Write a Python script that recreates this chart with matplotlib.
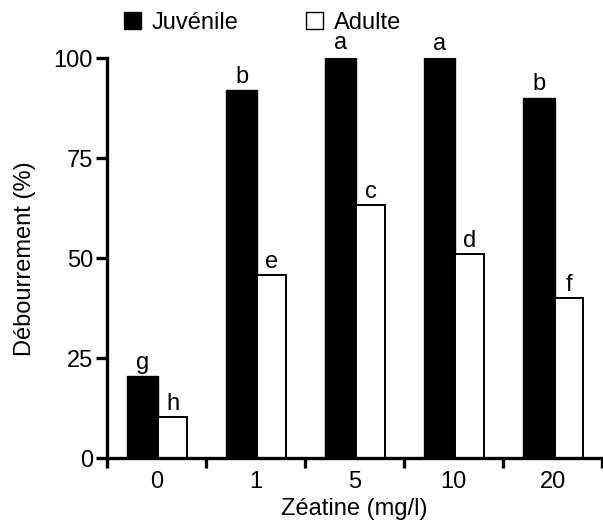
import numpy as np
import matplotlib.pyplot as plt
from matplotlib.patches import Patch

plt.rcParams['font.family'] = ['Liberation Sans', 'DejaVu Sans']

doses = ["0", "1", "5", "10", "20"]
juvenile = [20.6, 92.0, 100.5, 100.2, 90.2]
adulte = [10.2, 45.8, 63.3, 51.0, 40.1]
letters_juv = ["g", "b", "a", "a", "b"]
letters_adu = ["h", "e", "c", "d", "f"]

FS = 17


def main():
    fig = plt.figure(figsize=(6.03, 5.24), dpi=100)
    ax = fig.add_axes([0.1774, 0.1254, 0.821, 0.7633])

    x = np.arange(len(doses))
    bj = ax.bar(x - 0.14, juvenile, width=0.32, color='black', edgecolor='black',
                linewidth=1.0, zorder=2)
    ba = ax.bar(x + 0.165, adulte, width=0.29, color='white', edgecolor='black',
                linewidth=1.4, zorder=2)

    for rect, lab in zip(list(bj) + list(ba), letters_juv + letters_adu):
        ax.text(rect.get_x() + rect.get_width() / 2, rect.get_height() + 1.8, lab,
                ha='center', va='baseline', fontsize=FS, clip_on=False)

    ax.set_xlim(-0.5, 4.5)
    ax.set_ylim(0, 100)
    ax.spines['top'].set_visible(False)
    ax.spines['right'].set_visible(False)
    ax.spines['left'].set_linewidth(2.4)
    ax.spines['bottom'].set_linewidth(2.4)

    ax.set_yticks([0, 25, 50, 75, 100])
    ax.tick_params(axis='y', length=8, width=2.4, labelsize=FS, pad=2)
    ax.set_xticks(x)
    ax.set_xticklabels(doses)
    ax.set_xticks(np.arange(-0.5, 5.0, 1.0), minor=True)
    ax.tick_params(axis='x', which='major', length=0, labelsize=FS, pad=9)
    ax.tick_params(axis='x', which='minor', length=7, width=2.4)

    ax.set_xlabel("Zéatine (mg/l)", fontsize=FS, labelpad=4)
    ax.set_ylabel("Débourrement (%)", fontsize=FS, labelpad=13)

    handles = [Patch(facecolor='black', edgecolor='black', label='Juvénile'),
               Patch(facecolor='white', edgecolor='black', label='Adulte')]
    fig.legend(handles=handles, loc='upper left', bbox_to_anchor=(0.19, 0.995),
               ncol=2, frameon=False, fontsize=FS, handlelength=0.72,
               handleheight=0.72, handletextpad=0.47, columnspacing=2.84,
               borderaxespad=0.2, borderpad=0.2)

    fig.savefig("out.png", dpi=100)


if __name__ == "__main__":
    main()
